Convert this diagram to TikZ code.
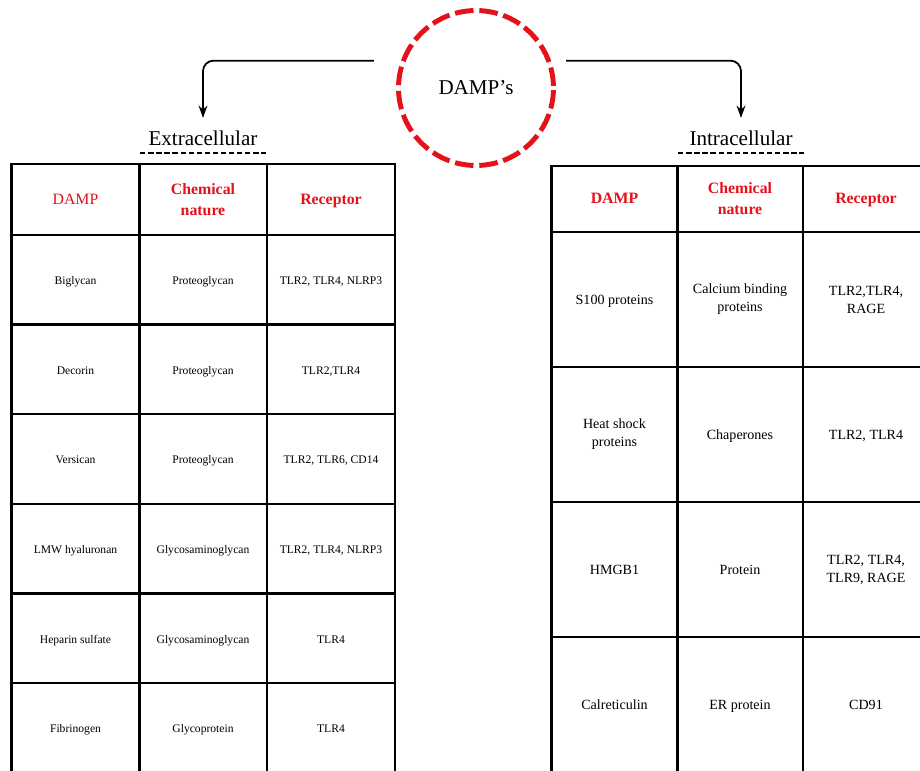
\documentclass[tikz,border=0pt]{standalone}
\usepackage{fontspec}
\setmainfont{Liberation Serif}
\usetikzlibrary{arrows.meta}
\definecolor{dampred}{RGB}{228,16,26}
\tikzset{
  cell/.style={draw,rectangle,line width=1.3pt,align=center,inner sep=0pt,text height=1.6ex,text depth=.4ex},
  multi/.style={text height=,text depth=},
  lcell/.style={cell,minimum width=2.56cm,minimum height=1.79cm,font=\fontsize{6.6}{8.4}\selectfont},
  rcell/.style={cell,minimum width=2.52cm,minimum height=2.7cm,font=\fontsize{8}{10.2}\selectfont},
  head/.style={text=dampred,font=\fontsize{9}{11.9}\selectfont\bfseries},
  link/.style={draw,line width=1pt,rounded corners=6pt,-{Stealth[length=7pt,width=5pt]}},
  uline/.style={line width=1pt,dash pattern=on 3pt off 1.6pt},
}
\begin{document}
\begin{tikzpicture}[x=0.02cm,y=-0.02cm]
\useasboundingbox (0,0) rectangle (920,771);
\clip (0,0) rectangle (920,771);
\node[draw=dampred,circle,line width=2.8pt,dash pattern=on 10.6pt off 3.3pt,dash phase=12.7pt,minimum size=3.1cm,inner sep=0pt,font=\fontsize{12}{14}\selectfont] (damp) at (476,88) {DAMP’s};
\node[minimum width=2.5cm,inner xsep=0pt,inner ysep=4pt,font=\fontsize{12}{14}\selectfont] (extra) at (203,138) {Extracellular};
\node[minimum width=2.5cm,inner xsep=0pt,inner ysep=4pt,font=\fontsize{12}{14}\selectfont] (intra) at (741,138) {Intracellular};
\draw[uline] (extra.south west) -- (extra.south east);
\draw[uline] (intra.south west) -- (intra.south east);
\draw[link,shorten <=0.54cm,shorten >=3pt] (damp.160) -| (extra);
\draw[link,shorten <=0.3cm,shorten >=3pt] (damp.20) -| (intra);
% extracellular table
\node[lcell,minimum height=1.42cm,text=dampred,font=\fontsize{9}{11.9}\selectfont] (lh1) at (75.5,199.5) {DAMP};
\node[lcell,minimum height=1.42cm,head,multi] (lh2) at (203,199.5) {Chemical\\nature};
\node[lcell,minimum height=1.42cm,head] (lh3) at (331,199.5) {Receptor};
\node[lcell] (la1) at (75.5,279.8) {Biglycan};
\node[lcell] (la2) at (203,279.8) {Proteoglycan};
\node[lcell] (la3) at (331,279.8) {TLR2, TLR4, NLRP3};
\node[lcell] (lb1) at (75.5,369.4) {Decorin};
\node[lcell] (lb2) at (203,369.4) {Proteoglycan};
\node[lcell] (lb3) at (331,369.4) {TLR2,TLR4};
\node[lcell] (lc1) at (75.5,459) {Versican};
\node[lcell] (lc2) at (203,459) {Proteoglycan};
\node[lcell] (lc3) at (331,459) {TLR2, TLR6, CD14};
\node[lcell] (ld1) at (75.5,548.6) {LMW hyaluronan};
\node[lcell] (ld2) at (203,548.6) {Glycosaminoglycan};
\node[lcell] (ld3) at (331,548.6) {TLR2, TLR4, NLRP3};
\node[lcell] (le1) at (75.5,638.2) {Heparin sulfate};
\node[lcell] (le2) at (203,638.2) {Glycosaminoglycan};
\node[lcell] (le3) at (331,638.2) {TLR4};
\node[lcell] (lf1) at (75.5,727.8) {Fibrinogen};
\node[lcell] (lf2) at (203,727.8) {Glycoprotein};
\node[lcell] (lf3) at (331,727.8) {TLR4};
% intracellular table
\node[rcell,minimum height=1.32cm,head] (rh1) at (614.5,199) {DAMP};
\node[rcell,minimum height=1.32cm,head,multi] (rh2) at (740,199) {Chemical\\nature};
\node[rcell,minimum height=1.32cm,head] (rh3) at (866,199) {Receptor};
\node[rcell] (ra1) at (614.5,299.5) {S100 proteins};
\node[rcell,multi] (ra2) at (740,299.5) {Calcium binding\\proteins};
\node[rcell,multi] (ra3) at (866,299.5) {TLR2,TLR4,\\RAGE};
\node[rcell,multi] (rb1) at (614.5,434.5) {Heat shock\\proteins};
\node[rcell] (rb2) at (740,434.5) {Chaperones};
\node[rcell] (rb3) at (866,434.5) {TLR2, TLR4};
\node[rcell] (rc1) at (614.5,569.5) {HMGB1};
\node[rcell] (rc2) at (740,569.5) {Protein};
\node[rcell,multi] (rc3) at (866,569.5) {TLR2, TLR4,\\TLR9, RAGE};
\node[rcell] (rd1) at (614.5,704.5) {Calreticulin};
\node[rcell] (rd2) at (740,704.5) {ER protein};
\node[rcell] (rd3) at (866,704.5) {CD91};
\end{tikzpicture}
\end{document}
